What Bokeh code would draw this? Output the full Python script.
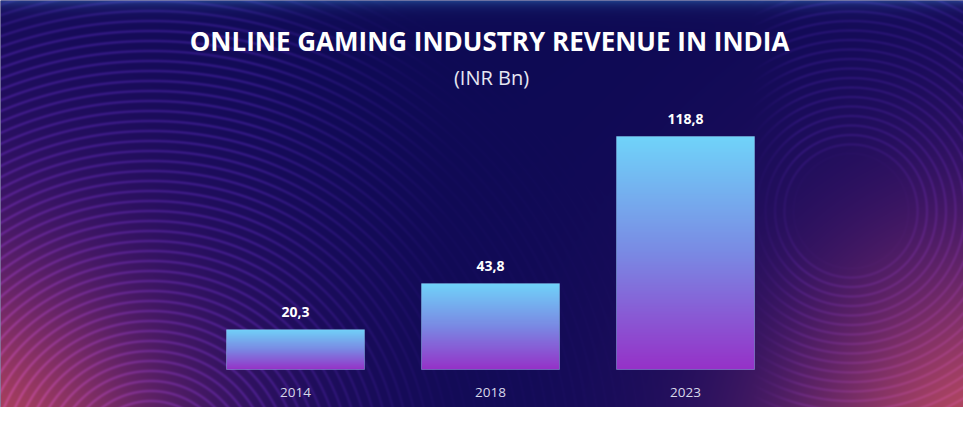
import numpy as np
from bokeh.plotting import figure
from bokeh.models import Range1d, FixedTicker, Label
from bokeh.embed import file_html
from bokeh.resources import INLINE
from bokeh.core.properties import value

# ---- data ----
title_text = "ONLINE GAMING INDUSTRY REVENUE IN INDIA"
subtitle_text = "(INR Bn)"
years = ["2014", "2018", "2023"]
revenue = [20.3, 43.8, 118.8]
value_labels = [f"{v:.1f}".replace(".", ",") for v in revenue]

# ---- layout ----
W, H = 963, 407
xs = list(range(len(years)))
PX_X = 195.0
X0 = -295.0 / PX_X
X1 = X0 + W / PX_X
PX_Y = 233.0 / 118.8
Y0 = -(H - 369.0) / PX_Y
Y1 = 369.0 / PX_Y
BAR_W = 138.0 / PX_X

p = figure(width=W, height=H, output_backend="svg", toolbar_location=None,
           x_range=Range1d(X0, X1), y_range=Range1d(Y0, Y1),
           min_border=0, outline_line_color=None)
p.grid.visible = False
p.yaxis.visible = False
p.background_fill_color = "#0e0a58"
p.border_fill_color = "#0e0a58"

# ---- decorative background (pixel space) ----
u = np.arange(W)[None, :] + 0.0
v = np.arange(H)[:, None] + 0.0
base = np.array([13, 10, 84], float)
img = np.zeros((H, W, 3)) + base

def lerp(c, col, w):
    return c * (1 - w[..., None]) + np.array(col, float) * w[..., None]

def gauss(cx, cy, r):
    return np.exp(-(((u - cx) ** 2 + (v - cy) ** 2) / r ** 2))

# top bluish band
img = lerp(img, (35, 75, 150), np.exp(-v / 6.0) * np.ones_like(u) * 0.8)
# purple glows
img = lerp(img, (88, 22, 126), gauss(-90, 470, 330) * 0.95)
img = lerp(img, (88, 22, 126), gauss(1070, 470, 330) * 0.95)
# reddish corners
img = lerp(img, (186, 72, 88), gauss(-40, 480, 190))
img = lerp(img, (196, 80, 92), gauss(1010, 480, 200))

# concentric rings
def rings(cx, cy, period, rmin, rmax):
    d = np.sqrt((u - cx) ** 2 + (v - cy) ** 2)
    r = (0.5 + 0.5 * np.cos(2 * np.pi * d / period)) ** 4
    m = np.clip((d - rmin) / 15, 0, 1) * np.clip((rmax - d) / 100, 0, 1)
    return r * m

ringL = rings(150, 470, 10.0, 10, 540) * np.clip((470 - u) / 220, 0.1, 1)
ringR = rings(850, 210, 9.5, 55, 340) * np.clip((u - 750) / 50, 0, 1)
img = img + (ringL + ringR * 0.6)[..., None] * np.array([26, 12, 40], float)

img = np.clip(img, 0, 255).astype(np.uint8)
rgba = np.zeros((H, W, 4), np.uint8)
rgba[..., :3] = img
rgba[..., 3] = 255
bg = rgba[::-1].copy().view(np.uint32).reshape(H, W)
p.image_rgba(image=[bg], x=X0, y=Y0, dw=X1 - X0, dh=Y1 - Y0)

# ---- gradient bars ----
N = 256
t = np.linspace(0, 1, N)  # 0 bottom -> 1 top
bottom_c = np.array([150, 50, 200], float)
mid_c = np.array([122, 138, 228], float)
top_c = np.array([112, 212, 250], float)
cols = np.where(t[:, None] < 0.5,
                bottom_c + (mid_c - bottom_c) * (t[:, None] / 0.5),
                mid_c + (top_c - mid_c) * ((t[:, None] - 0.5) / 0.5))
grad = np.zeros((N, 1, 4), np.uint8)
grad[:, 0, :3] = np.clip(cols, 0, 255).astype(np.uint8)
grad[:, 0, 3] = 255
grad32 = grad.view(np.uint32).reshape(N, 1)

p.image_rgba(image=[grad32] * len(xs), x=[x - BAR_W / 2 for x in xs], y=[0] * len(xs),
             dw=[BAR_W] * len(xs), dh=revenue)
p.vbar(x=xs, top=revenue, width=BAR_W, fill_alpha=0,
       line_color="#9fe0ff", line_alpha=0.35, line_width=1)

# ---- value labels ----
p.text(x=xs, y=revenue, text=value_labels, text_font=value("Open Sans"),
       text_font_style="bold", text_font_size="14px", text_color="#ffffff",
       text_align="center", text_baseline="middle", y_offset=-18)

# ---- x axis (year labels) ----
ax = p.xaxis[0]
ax.fixed_location = 0
ax.ticker = FixedTicker(ticks=xs)
ax.major_label_overrides = {i: y for i, y in zip(xs, years)}
ax.axis_line_color = None
ax.major_tick_line_color = None
ax.minor_tick_line_color = None
ax.major_label_standoff = 12
ax.major_label_text_font = "Open Sans"
ax.major_label_text_font_size = "13.5px"
ax.major_label_text_color = "#d8d8ea"

# ---- titles ----
p.add_layout(Label(x=489, y=H - 40, x_units="screen", y_units="screen",
                   text=title_text, text_align="center", text_baseline="middle",
                   text_font="Open Sans", text_font_style="bold",
                   text_font_size="26px", text_color="#ffffff"))
p.add_layout(Label(x=491, y=H - 77, x_units="screen", y_units="screen",
                   text=subtitle_text, text_align="center", text_baseline="middle",
                   text_font="Open Sans", text_font_size="20px",
                   text_color="#e6e6f2"))

open("out.html", "w").write(file_html(p, INLINE))
